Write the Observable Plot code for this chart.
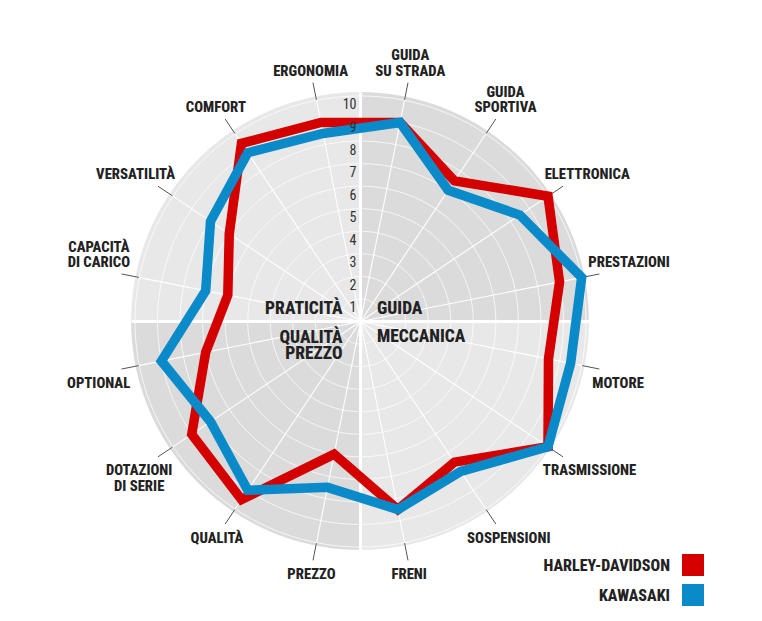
<!DOCTYPE html>
<html>
<head>
<meta charset="utf-8">
<script src="https://cdn.jsdelivr.net/npm/d3@7"></script>
<script src="https://cdn.jsdelivr.net/npm/@observablehq/plot@0.6"></script>
<style>
  body { margin: 0; background: #fff; }
  #wrap { position: relative; width: 762px; height: 621px; overflow: hidden; }
  .legend { position: absolute; right: 58px; top: 554px; }
  .legend .row { display: flex; align-items: center; justify-content: flex-end; height: 22px; margin-bottom: 8px; }
  .legend .lab { font-weight: 800; font-size: 16px; color: #222; margin-right: 12px; }
  .legend .sw { width: 22px; height: 22px; }
</style>
</head>
<body>
<div id="wrap"></div>
<script>
// ---- data ----
const axesLabels = ["GUIDA\nSU STRADA", "GUIDA\nSPORTIVA", "ELETTRONICA", "PRESTAZIONI",
  "MOTORE", "TRASMISSIONE", "SOSPENSIONI", "FRENI",
  "PREZZO", "QUALITÀ", "DOTAZIONI\nDI SERIE", "OPTIONAL",
  "CAPACITÀ\nDI CARICO", "VERSATILITÀ", "COMFORT", "ERGONOMIA"];
const harley   = [9, 7.5, 10, 9, 8.5, 10, 7.5, 8.5, 6, 9.5, 9, 7, 6, 7, 9.5, 9];
const kawasaki = [9, 7, 8.5, 10, 9.5, 10, 8, 8.5, 7.5, 9, 8, 9, 7, 8, 9, 8.5];
const tickValues = [1, 2, 3, 4, 5, 6, 7, 8, 9, 10];
const groupTop = ["PRATICITÀ", "GUIDA"];
const groupBottom = ["QUALITÀ\nPREZZO", "MECCANICA"];
const seriesNames = ["HARLEY-DAVIDSON", "KAWASAKI"];
const seriesColors = ["#d40000", "#0a8ac8"];

// ---- geometry helpers ----
const FONT = "'Roboto Condensed', 'DejaVu Sans Condensed', sans-serif";
const W = 762, H = 621, CX = 360, CY = 321, S = 22.55; // px per unit
const RDISK = 10.15, RLEAD = 10.8;
const LABEL_SIZE = 14.7, LINE = 15.5, CAP = 10.4;
const WEIGHT = 800;
const ang = i => (11.25 + 22.5 * i) * Math.PI / 180;

const ctx = document.createElement("canvas").getContext("2d");
ctx.font = `${WEIGHT} ${LABEL_SIZE}px ${FONT}`;

const seriesData = [];
[harley, kawasaki].forEach((vals, si) => {
  vals.forEach((v, i) => seriesData.push({s: seriesNames[si], x: v * Math.sin(ang(i)), y: v * Math.cos(ang(i))}));
});

function quarter(sx, sy) {
  const pts = [];
  for (let k = 0; k <= 180; k++) {
    const t = (k / 180) * Math.PI / 2;
    pts.push({x: sx * RDISK * Math.sin(t), y0: 0, y: sy * RDISK * Math.cos(t)});
  }
  return pts;
}
const rings = [];
tickValues.forEach(v => {
  for (let k = 0; k < 240; k++) {
    const t = k / 240 * 2 * Math.PI;
    rings.push({v, x: v * Math.sin(t), y: v * Math.cos(t)});
  }
});
const spokes = axesLabels.map((l, i) => ({x2: RDISK * Math.sin(ang(i)), y2: RDISK * Math.cos(ang(i))}));
const leaders = axesLabels.map((l, i) => ({
  x1: 10.02 * Math.sin(ang(i)), y1: 10.02 * Math.cos(ang(i)),
  x2: RLEAD * Math.sin(ang(i)), y2: RLEAD * Math.cos(ang(i))}));
// labels sit above (top half) or below (bottom half) the end of their leader line
const labels = axesLabels.map((l, i) => {
  const lines = l.split("\n");
  const w = Math.max(...lines.map(t => ctx.measureText(t).width));
  const extent = (lines.length - 1) * LINE + CAP;
  const th = ang(i), sn = Math.sin(th), cs = Math.cos(th);
  const ex = RLEAD * S * sn, ey = RLEAD * S * cs;      // px, y up
  const frac = 0.75 * Math.pow(Math.abs(sn), 1.5);
  const px = ex + Math.sign(sn) * frac * w / 2;
  const py = cs > 0 ? ey + 6.5 + extent / 2 : ey - 8.5 - extent / 2;
  return {text: l, x: px / S, y: py / S};
});
const cross = [{x1: -RDISK, y1: 0, x2: RDISK, y2: 0}, {x1: 0, y1: -RDISK, x2: 0, y2: RDISK}];
const groupStyle = {x: 0, y: 0, text: d => d, fontSize: 17.5, fontWeight: WEIGHT, fill: "#222", lineAnchor: "middle", lineHeight: 0.93};

const chart = Plot.plot({
  width: W, height: H, margin: 0,
  x: {domain: [-CX / S, (W - CX) / S], range: [0, W], axis: null},
  y: {domain: [-(H - CY) / S, CY / S], range: [H, 0], axis: null},
  style: {fontFamily: FONT, background: "white", overflow: "visible"},
  color: {domain: seriesNames, range: seriesColors},
  marks: [
    Plot.areaY(quarter(1, 1), {x: "x", y1: "y0", y2: "y", fill: "#dbdbdb"}),
    Plot.areaY(quarter(-1, -1), {x: "x", y1: "y0", y2: "y", fill: "#dbdbdb"}),
    Plot.areaY(quarter(-1, 1), {x: "x", y1: "y0", y2: "y", fill: "#e8e8e8"}),
    Plot.areaY(quarter(1, -1), {x: "x", y1: "y0", y2: "y", fill: "#e8e8e8"}),
    Plot.line(rings, {x: "x", y: "y", z: "v", curve: "linear-closed", stroke: "white", strokeWidth: 1, strokeOpacity: 0.75}),
    Plot.link(spokes, {x1: 0, y1: 0, x2: "x2", y2: "y2", stroke: "white", strokeWidth: 1.1}),
    Plot.link(cross, {x1: "x1", y1: "y1", x2: "x2", y2: "y2", stroke: "white", strokeWidth: 3}),
    Plot.link(leaders, {x1: "x1", y1: "y1", x2: "x2", y2: "y2", stroke: "#555", strokeWidth: 1}),
    Plot.text([groupTop[0]], {...groupStyle, dx: -18, dy: -13, textAnchor: "end"}),
    Plot.text([groupTop[1]], {...groupStyle, dx: 16.5, dy: -13, textAnchor: "start"}),
    Plot.text([groupBottom[0]], {...groupStyle, dx: -18, dy: 24.5, textAnchor: "end"}),
    Plot.text([groupBottom[1]], {...groupStyle, dx: 16.5, dy: 15, textAnchor: "start"}),
    Plot.line(seriesData, {x: "x", y: "y", z: "s", stroke: "s", curve: "linear-closed", strokeWidth: 9.5, strokeLinejoin: "miter", strokeMiterlimit: 3}),
    Plot.text(tickValues, {x: 0, y: d => d, text: d => String(d), dx: -4, dy: 9, textAnchor: "end", lineAnchor: "middle", fontSize: 14, fill: "#333"}),
    Plot.text(labels, {x: "x", y: "y", text: "text", fontSize: LABEL_SIZE, fontWeight: WEIGHT, fill: "#222", textAnchor: "middle", lineAnchor: "middle", lineHeight: LINE / LABEL_SIZE})
  ]
});
document.getElementById("wrap").appendChild(chart);

// legend
const leg = document.createElement("div");
leg.className = "legend";
leg.style.fontFamily = FONT;
seriesNames.forEach((name, i) => {
  const row = document.createElement("div");
  row.className = "row";
  const lab = document.createElement("span");
  lab.className = "lab";
  lab.textContent = name;
  const sw = document.createElement("span");
  sw.className = "sw";
  sw.style.background = seriesColors[i];
  row.appendChild(lab);
  row.appendChild(sw);
  leg.appendChild(row);
});
document.getElementById("wrap").appendChild(leg);
</script>
</body>
</html>
